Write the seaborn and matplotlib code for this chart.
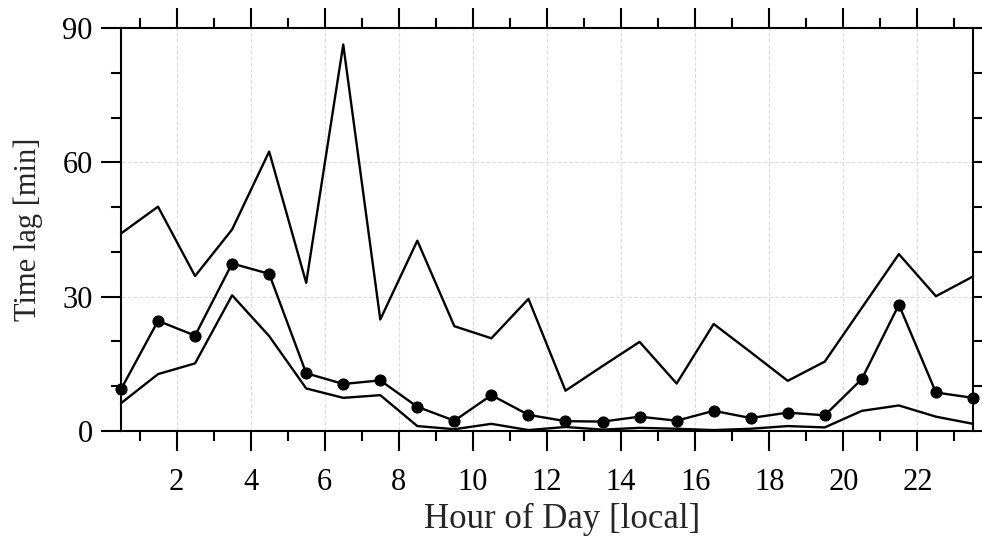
import numpy as np
import pandas as pd
import matplotlib
matplotlib.use("Agg")
import matplotlib.pyplot as plt
import seaborn as sns
from matplotlib.ticker import MultipleLocator

hours = [0.5, 1.5, 2.5, 3.5, 4.5, 5.5, 6.5, 7.5, 8.5, 9.5, 10.5, 11.5,
         12.5, 13.5, 14.5, 15.5, 16.5, 17.5, 18.5, 19.5, 20.5, 21.5, 22.5, 23.5]
upper = [44.1, 50.1, 34.6, 45.0, 62.4, 33.1, 86.3, 24.9, 42.5, 23.4, 20.7, 29.5,
         9.0, 14.5, 19.9, 10.6, 23.9, 17.6, 11.2, 15.5, 27.5, 39.5, 30.1, 34.5]
median = [9.3, 24.6, 21.3, 37.4, 35.1, 12.9, 10.5, 11.3, 5.4, 2.3, 8.0, 3.6,
          2.2, 2.1, 3.2, 2.3, 4.5, 2.9, 4.1, 3.5, 11.6, 28.2, 8.6, 7.4]
lower = [6.2, 12.7, 15.1, 30.3, 21.2, 9.5, 7.4, 8.0, 1.1, 0.4, 1.6, 0.2,
         0.9, 0.3, 0.7, 0.5, 0.2, 0.5, 1.1, 0.8, 4.5, 5.7, 3.2, 1.6]

df = pd.DataFrame({"hour": hours, "upper": upper, "median": median, "lower": lower})

sns.set_style("ticks")
plt.rcParams["font.family"] = ["Liberation Serif", "DejaVu Serif"]

fig = plt.figure(figsize=(9.82, 5.38), dpi=100)
ax = fig.add_axes([0.1232, 0.1989, 0.8676, 0.7491])

sns.lineplot(data=df, x="hour", y="upper", color="black", lw=1.7, ax=ax)
sns.lineplot(data=df, x="hour", y="median", color="black", lw=1.7, marker="o",
             markersize=8, markeredgecolor="black", ax=ax)
sns.lineplot(data=df, x="hour", y="lower", color="black", lw=1.7, ax=ax)
for ln in ax.lines:
    ln.set_clip_on(False)

ax.set_xlim(0.5, 23.5)
ax.set_ylim(0, 90)
ax.xaxis.set_major_locator(MultipleLocator(2))
ax.xaxis.set_minor_locator(MultipleLocator(1))
ax.yaxis.set_major_locator(MultipleLocator(30))
ax.yaxis.set_minor_locator(MultipleLocator(10))

ax.grid(True, which="major", ls="--", color="#dcdcdc", lw=0.8)
ax.set_axisbelow(True)

for sp in ax.spines.values():
    sp.set_linewidth(1.5)
    sp.set_color("black")

ax.tick_params(which="both", direction="out", top=True, right=True,
               width=1.5, colors="black", labelsize=22)
ax.tick_params(which="major", length=14.5)
ax.tick_params(which="minor", length=7.5)
ax.tick_params(axis="x", which="major", pad=12)
ax.tick_params(axis="y", which="major", pad=6)

# x label sits a bit right of centre in the original
ax.set_xlabel("Hour of Day [local]", fontsize=25)
ax.xaxis.set_label_coords(0.518, -0.178)
ax.xaxis.label.set_va("top")
ax.set_ylabel("Time lag [min]", fontsize=22, labelpad=14)

fig.savefig("out.png", dpi=100)
